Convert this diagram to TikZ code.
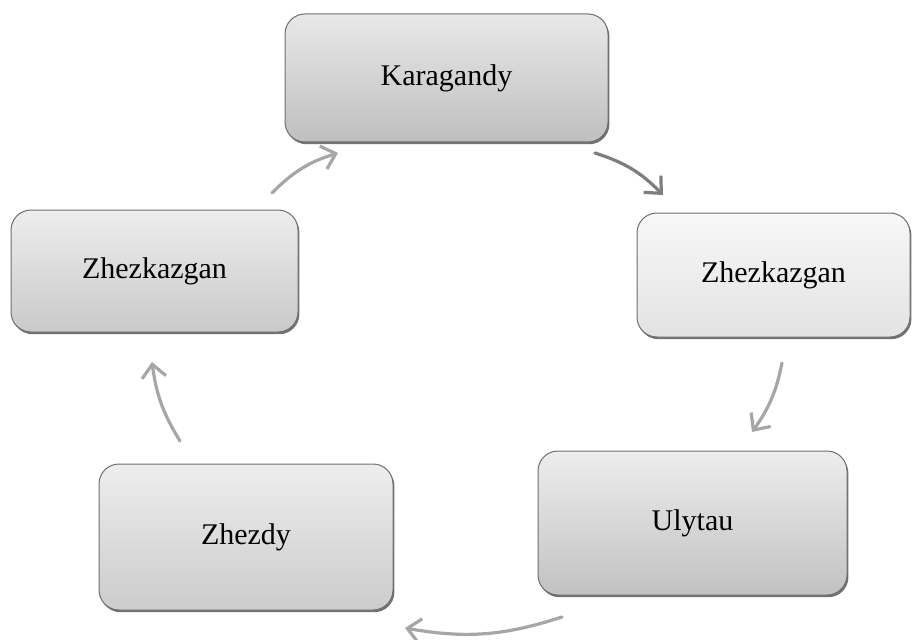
\documentclass[tikz,border=0pt]{standalone}
\usepackage{fontspec}
\newfontfamily\townfont{Liberation Serif}
\usetikzlibrary{arrows.meta,shadows}
\definecolor{edgegray}{HTML}{6E6E6E}
\definecolor{arrlight}{HTML}{A6A6A6}
\definecolor{arrdark}{HTML}{7E7E7E}

\tikzset{
  town/.style={draw=edgegray, line width=0.5pt, rounded corners=10pt,
    font=\townfont\fontsize{15}{18}\selectfont,
    drop shadow={shadow xshift=0.7pt, shadow yshift=-1.1pt, fill=black!55, opacity=1}},
  cyc/.style={line width=1.6pt, arrlight, line cap=round,
    -{Straight Barb[length=6.5pt,width=12pt,line width=1.6pt]}}
}

\begin{document}
\begin{tikzpicture}[x=0.5pt,y=0.5pt]
  \useasboundingbox (0,0) rectangle (912,639);
  % towns
  \node[town, top color=white!91!black, bottom color=white!75!black,
    minimum width=161.5pt, minimum height=64pt] (kar) at (446.5,561) {Karagandy};
  \node[town, top color=white!97!black, bottom color=white!89!black,
    minimum width=136.5pt, minimum height=62pt] (zhr) at (773.5,364) {Zhezkazgan};
  \node[town, top color=white!93!black, bottom color=white!76!black,
    minimum width=154.5pt, minimum height=72pt] (uly) at (692.5,116) {Ulytau};
  \node[town, top color=white!93!black, bottom color=white!80!black,
    minimum width=147pt, minimum height=73pt] (zhd) at (246,102) {Zhezdy};
  \node[town, top color=white!93!black, bottom color=white!79!black,
    minimum width=143.5pt, minimum height=61pt] (zhl) at (154.5,368) {Zhezkazgan};
  % arrow ends
  \coordinate (a1) at (272,446);  \coordinate (b1) at (338,486);
  \coordinate (a2) at (595,486);  \coordinate (b2) at (663,444);
  \coordinate (a3) at (782,276);  \coordinate (b3) at (752,207);
  \coordinate (a4) at (562,22);   \coordinate (b4) at (405,11);
  \coordinate (a5) at (180,198);  \coordinate (b5) at (152,277);
  \draw[cyc] (a1) to[bend left=14] (b1);
  \draw[cyc, arrdark] (a2) to[bend left=14] (b2);
  \draw[cyc] (a3) to[bend left=12] (b3);
  \draw[cyc] (a4) to[bend left=14] (b4);
  \draw[cyc] (a5) to[bend left=12] (b5);
\end{tikzpicture}
\end{document}
